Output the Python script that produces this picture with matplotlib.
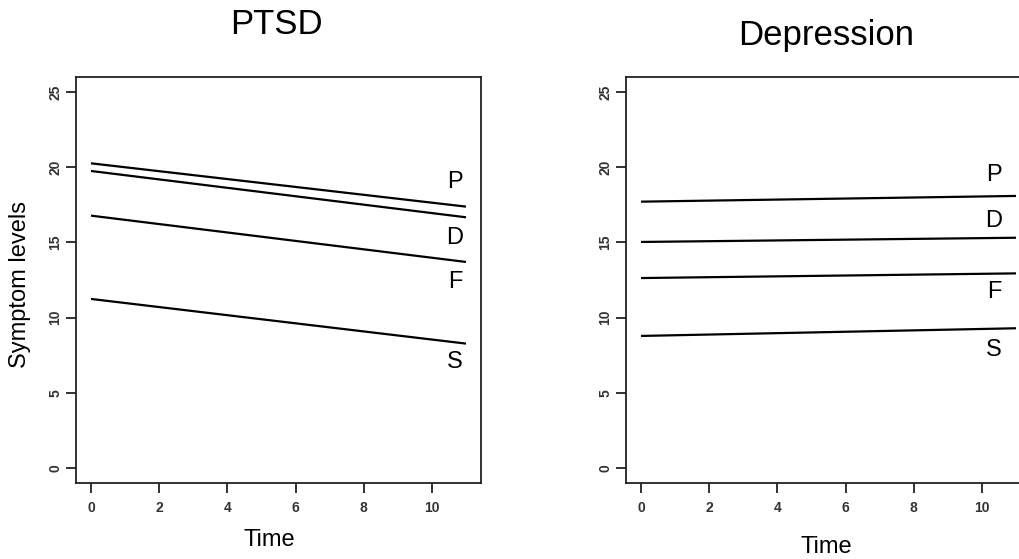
import matplotlib
matplotlib.use("Agg")
import matplotlib.pyplot as plt

plt.rcParams['font.family'] = ['Liberation Sans', 'DejaVu Sans']

time = [0, 11]
groups = ["P", "D", "F", "S"]

ptsd_start = [20.26, 19.75, 16.78, 11.24]
ptsd_end = [17.38, 16.67, 13.70, 8.27]
ptsd_label_y = [19.04, 15.27, 12.39, 7.07]
ptsd_label_x = 10.68

dep_start = [17.71, 15.03, 12.63, 8.78]
dep_end = [18.09, 15.31, 12.94, 9.29]
dep_label_y = [19.48, 16.44, 11.72, 7.85]
dep_label_x = 10.35

xticks = [0, 2, 4, 6, 8, 10]
yticks = [0, 5, 10, 15, 20, 25]

W, H = 1020, 559
fig = plt.figure(figsize=(W / 100, H / 100), dpi=100)

def make_ax(left_px):
    ax = fig.add_axes([left_px / W, (H - 483) / H, 405 / W, 406 / H])
    ax.set_xlim(-0.44, 11.44)
    ax.set_ylim(-1, 26)
    ax.set_xticks(xticks)
    ax.set_yticks(yticks)
    ax.set_xticklabels([str(v) for v in xticks], fontweight='bold', color='#333333')
    ax.set_yticklabels([str(v) for v in yticks], rotation=90, va='center',
                       fontweight='bold', color='#333333')
    ax.tick_params(direction='out', length=7, width=1.3, labelsize=10, color='#222222')
    ax.tick_params(axis='x', pad=6)
    ax.tick_params(axis='y', pad=3)
    for s in ax.spines.values():
        s.set_linewidth(1.3)
        s.set_color('#222222')
    return ax

ax1 = make_ax(76)
for s, e in zip(ptsd_start, ptsd_end):
    ax1.plot(time, [s, e], color='black', lw=1.6, solid_capstyle='butt')
for g, y in zip(groups, ptsd_label_y):
    ax1.text(ptsd_label_x, y, g, fontsize=17, ha='center', va='center')

ax2 = make_ax(626)
for s, e in zip(dep_start, dep_end):
    ax2.plot(time, [s, e], color='black', lw=1.6, solid_capstyle='butt')
for g, y in zip(groups, dep_label_y):
    ax2.text(dep_label_x, y, g, fontsize=17, ha='center', va='center')

fig.text(276 / W, 1 - 25 / H, "PTSD", fontsize=25, ha='center', va='center')
fig.text(826 / W, 1 - 35 / H, "Depression", fontsize=25, ha='center', va='center')
fig.text(269 / W, 1 - 540 / H, "Time", fontsize=17, ha='center', va='center')
fig.text(826 / W, 1 - 547 / H, "Time", fontsize=17, ha='center', va='center')
fig.text(20 / W, 1 - 285 / H, "Symptom levels", fontsize=17, ha='center', va='center', rotation=90)

fig.savefig("out.png", dpi=100)
